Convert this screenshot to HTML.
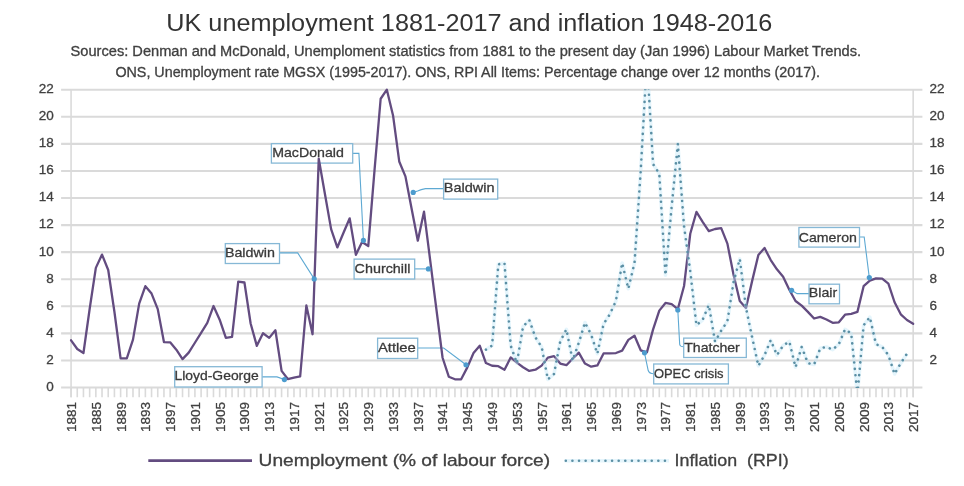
<!DOCTYPE html><html><head><meta charset="utf-8"><title>UK unemployment and inflation</title><style>html,body{margin:0;padding:0;background:#fff;width:964px;height:486px;overflow:hidden}svg{display:block;will-change:transform}text{font-family:"Liberation Sans",sans-serif;stroke-width:0.3px}</style></head><body>
<svg width="964" height="486" viewBox="0 0 964 486">
<defs><clipPath id="pa"><rect x="71.07" y="89.20" width="842.08" height="298.85"/></clipPath></defs>
<text x="166.3" y="30.6" font-size="23" fill="#333" stroke="none" textLength="606" lengthAdjust="spacingAndGlyphs">UK unemployment 1881-2017 and inflation 1948-2016</text>
<text x="70.6" y="56.3" font-size="13.8" fill="#404040" stroke="#404040" textLength="790.5" lengthAdjust="spacingAndGlyphs">Sources: Denman and McDonald, Unemploment statistics from 1881 to the present day (Jan 1996) Labour Market Trends.</text>
<text x="115.4" y="76.9" font-size="13.8" fill="#404040" stroke="#404040" textLength="704.5" lengthAdjust="spacingAndGlyphs">ONS, Unemployment rate MGSX (1995-2017). ONS, RPI All Items: Percentage change over 12 months (2017).</text>
<line x1="61.1" x2="922.4" y1="387.55" y2="387.55" stroke="#dadada" stroke-width="2.1"/>
<line x1="61.1" x2="922.4" y1="360.47" y2="360.47" stroke="#dadada" stroke-width="2.1"/>
<line x1="61.1" x2="922.4" y1="333.40" y2="333.40" stroke="#dadada" stroke-width="2.1"/>
<line x1="61.1" x2="922.4" y1="306.32" y2="306.32" stroke="#dadada" stroke-width="2.1"/>
<line x1="61.1" x2="922.4" y1="279.24" y2="279.24" stroke="#dadada" stroke-width="2.1"/>
<line x1="61.1" x2="922.4" y1="252.16" y2="252.16" stroke="#dadada" stroke-width="2.1"/>
<line x1="61.1" x2="922.4" y1="225.09" y2="225.09" stroke="#dadada" stroke-width="2.1"/>
<line x1="61.1" x2="922.4" y1="198.01" y2="198.01" stroke="#dadada" stroke-width="2.1"/>
<line x1="61.1" x2="922.4" y1="170.93" y2="170.93" stroke="#dadada" stroke-width="2.1"/>
<line x1="61.1" x2="922.4" y1="143.85" y2="143.85" stroke="#dadada" stroke-width="2.1"/>
<line x1="61.1" x2="922.4" y1="116.78" y2="116.78" stroke="#dadada" stroke-width="2.1"/>
<line x1="61.1" x2="922.4" y1="89.70" y2="89.70" stroke="#dadada" stroke-width="2.1"/>
<line x1="71.07" x2="71.07" y1="89.70" y2="397.2" stroke="#dadada" stroke-width="1.6"/>
<line x1="913.15" x2="913.15" y1="89.70" y2="397.2" stroke="#dadada" stroke-width="1.6"/>
<path d="M71.07 387.55V397.2M77.26 387.55V397.2M83.45 387.55V397.2M89.65 387.55V397.2M95.84 387.55V397.2M102.03 387.55V397.2M108.22 387.55V397.2M114.41 387.55V397.2M120.60 387.55V397.2M126.80 387.55V397.2M132.99 387.55V397.2M139.18 387.55V397.2M145.37 387.55V397.2M151.56 387.55V397.2M157.75 387.55V397.2M163.95 387.55V397.2M170.14 387.55V397.2M176.33 387.55V397.2M182.52 387.55V397.2M188.71 387.55V397.2M194.91 387.55V397.2M201.10 387.55V397.2M207.29 387.55V397.2M213.48 387.55V397.2M219.67 387.55V397.2M225.86 387.55V397.2M232.06 387.55V397.2M238.25 387.55V397.2M244.44 387.55V397.2M250.63 387.55V397.2M256.82 387.55V397.2M263.01 387.55V397.2M269.21 387.55V397.2M275.40 387.55V397.2M281.59 387.55V397.2M287.78 387.55V397.2M293.97 387.55V397.2M300.17 387.55V397.2M306.36 387.55V397.2M312.55 387.55V397.2M318.74 387.55V397.2M324.93 387.55V397.2M331.12 387.55V397.2M337.32 387.55V397.2M343.51 387.55V397.2M349.70 387.55V397.2M355.89 387.55V397.2M362.08 387.55V397.2M368.27 387.55V397.2M374.47 387.55V397.2M380.66 387.55V397.2M386.85 387.55V397.2M393.04 387.55V397.2M399.23 387.55V397.2M405.43 387.55V397.2M411.62 387.55V397.2M417.81 387.55V397.2M424.00 387.55V397.2M430.19 387.55V397.2M436.38 387.55V397.2M442.58 387.55V397.2M448.77 387.55V397.2M454.96 387.55V397.2M461.15 387.55V397.2M467.34 387.55V397.2M473.53 387.55V397.2M479.73 387.55V397.2M485.92 387.55V397.2M492.11 387.55V397.2M498.30 387.55V397.2M504.49 387.55V397.2M510.69 387.55V397.2M516.88 387.55V397.2M523.07 387.55V397.2M529.26 387.55V397.2M535.45 387.55V397.2M541.64 387.55V397.2M547.84 387.55V397.2M554.03 387.55V397.2M560.22 387.55V397.2M566.41 387.55V397.2M572.60 387.55V397.2M578.79 387.55V397.2M584.99 387.55V397.2M591.18 387.55V397.2M597.37 387.55V397.2M603.56 387.55V397.2M609.75 387.55V397.2M615.95 387.55V397.2M622.14 387.55V397.2M628.33 387.55V397.2M634.52 387.55V397.2M640.71 387.55V397.2M646.90 387.55V397.2M653.10 387.55V397.2M659.29 387.55V397.2M665.48 387.55V397.2M671.67 387.55V397.2M677.86 387.55V397.2M684.05 387.55V397.2M690.25 387.55V397.2M696.44 387.55V397.2M702.63 387.55V397.2M708.82 387.55V397.2M715.01 387.55V397.2M721.21 387.55V397.2M727.40 387.55V397.2M733.59 387.55V397.2M739.78 387.55V397.2M745.97 387.55V397.2M752.16 387.55V397.2M758.36 387.55V397.2M764.55 387.55V397.2M770.74 387.55V397.2M776.93 387.55V397.2M783.12 387.55V397.2M789.31 387.55V397.2M795.51 387.55V397.2M801.70 387.55V397.2M807.89 387.55V397.2M814.08 387.55V397.2M820.27 387.55V397.2M826.47 387.55V397.2M832.66 387.55V397.2M838.85 387.55V397.2M845.04 387.55V397.2M851.23 387.55V397.2M857.42 387.55V397.2M863.62 387.55V397.2M869.81 387.55V397.2M876.00 387.55V397.2M882.19 387.55V397.2M888.38 387.55V397.2M894.57 387.55V397.2M900.77 387.55V397.2M906.96 387.55V397.2M913.15 387.55V397.2" stroke="#dadada" stroke-width="1.6"/>
<text x="53.8" y="390.95" font-size="13.5" fill="#404040" stroke="#404040" text-anchor="end">0</text>
<text x="53.8" y="363.87" font-size="13.5" fill="#404040" stroke="#404040" text-anchor="end">2</text>
<text x="929.6" y="363.87" font-size="13.5" fill="#404040" stroke="#404040">2</text>
<text x="53.8" y="336.80" font-size="13.5" fill="#404040" stroke="#404040" text-anchor="end">4</text>
<text x="929.6" y="336.80" font-size="13.5" fill="#404040" stroke="#404040">4</text>
<text x="53.8" y="309.72" font-size="13.5" fill="#404040" stroke="#404040" text-anchor="end">6</text>
<text x="929.6" y="309.72" font-size="13.5" fill="#404040" stroke="#404040">6</text>
<text x="53.8" y="282.64" font-size="13.5" fill="#404040" stroke="#404040" text-anchor="end">8</text>
<text x="929.6" y="282.64" font-size="13.5" fill="#404040" stroke="#404040">8</text>
<text x="53.8" y="255.56" font-size="13.5" fill="#404040" stroke="#404040" text-anchor="end">10</text>
<text x="929.6" y="255.56" font-size="13.5" fill="#404040" stroke="#404040">10</text>
<text x="53.8" y="228.49" font-size="13.5" fill="#404040" stroke="#404040" text-anchor="end">12</text>
<text x="929.6" y="228.49" font-size="13.5" fill="#404040" stroke="#404040">12</text>
<text x="53.8" y="201.41" font-size="13.5" fill="#404040" stroke="#404040" text-anchor="end">14</text>
<text x="929.6" y="201.41" font-size="13.5" fill="#404040" stroke="#404040">14</text>
<text x="53.8" y="174.33" font-size="13.5" fill="#404040" stroke="#404040" text-anchor="end">16</text>
<text x="929.6" y="174.33" font-size="13.5" fill="#404040" stroke="#404040">16</text>
<text x="53.8" y="147.25" font-size="13.5" fill="#404040" stroke="#404040" text-anchor="end">18</text>
<text x="929.6" y="147.25" font-size="13.5" fill="#404040" stroke="#404040">18</text>
<text x="53.8" y="120.18" font-size="13.5" fill="#404040" stroke="#404040" text-anchor="end">20</text>
<text x="929.6" y="120.18" font-size="13.5" fill="#404040" stroke="#404040">20</text>
<text x="53.8" y="93.10" font-size="13.5" fill="#404040" stroke="#404040" text-anchor="end">22</text>
<text x="929.6" y="93.10" font-size="13.5" fill="#404040" stroke="#404040">22</text>
<text transform="translate(75.97,402) rotate(-90)" x="0" y="0" font-size="13.5" fill="#404040" stroke="#404040" text-anchor="end">1881</text>
<text transform="translate(100.74,402) rotate(-90)" x="0" y="0" font-size="13.5" fill="#404040" stroke="#404040" text-anchor="end">1885</text>
<text transform="translate(125.50,402) rotate(-90)" x="0" y="0" font-size="13.5" fill="#404040" stroke="#404040" text-anchor="end">1889</text>
<text transform="translate(150.27,402) rotate(-90)" x="0" y="0" font-size="13.5" fill="#404040" stroke="#404040" text-anchor="end">1893</text>
<text transform="translate(175.04,402) rotate(-90)" x="0" y="0" font-size="13.5" fill="#404040" stroke="#404040" text-anchor="end">1897</text>
<text transform="translate(199.81,402) rotate(-90)" x="0" y="0" font-size="13.5" fill="#404040" stroke="#404040" text-anchor="end">1901</text>
<text transform="translate(224.57,402) rotate(-90)" x="0" y="0" font-size="13.5" fill="#404040" stroke="#404040" text-anchor="end">1905</text>
<text transform="translate(249.34,402) rotate(-90)" x="0" y="0" font-size="13.5" fill="#404040" stroke="#404040" text-anchor="end">1909</text>
<text transform="translate(274.11,402) rotate(-90)" x="0" y="0" font-size="13.5" fill="#404040" stroke="#404040" text-anchor="end">1913</text>
<text transform="translate(298.87,402) rotate(-90)" x="0" y="0" font-size="13.5" fill="#404040" stroke="#404040" text-anchor="end">1917</text>
<text transform="translate(323.64,402) rotate(-90)" x="0" y="0" font-size="13.5" fill="#404040" stroke="#404040" text-anchor="end">1921</text>
<text transform="translate(348.41,402) rotate(-90)" x="0" y="0" font-size="13.5" fill="#404040" stroke="#404040" text-anchor="end">1925</text>
<text transform="translate(373.17,402) rotate(-90)" x="0" y="0" font-size="13.5" fill="#404040" stroke="#404040" text-anchor="end">1929</text>
<text transform="translate(397.94,402) rotate(-90)" x="0" y="0" font-size="13.5" fill="#404040" stroke="#404040" text-anchor="end">1933</text>
<text transform="translate(422.71,402) rotate(-90)" x="0" y="0" font-size="13.5" fill="#404040" stroke="#404040" text-anchor="end">1937</text>
<text transform="translate(447.48,402) rotate(-90)" x="0" y="0" font-size="13.5" fill="#404040" stroke="#404040" text-anchor="end">1941</text>
<text transform="translate(472.24,402) rotate(-90)" x="0" y="0" font-size="13.5" fill="#404040" stroke="#404040" text-anchor="end">1945</text>
<text transform="translate(497.01,402) rotate(-90)" x="0" y="0" font-size="13.5" fill="#404040" stroke="#404040" text-anchor="end">1949</text>
<text transform="translate(521.78,402) rotate(-90)" x="0" y="0" font-size="13.5" fill="#404040" stroke="#404040" text-anchor="end">1953</text>
<text transform="translate(546.54,402) rotate(-90)" x="0" y="0" font-size="13.5" fill="#404040" stroke="#404040" text-anchor="end">1957</text>
<text transform="translate(571.31,402) rotate(-90)" x="0" y="0" font-size="13.5" fill="#404040" stroke="#404040" text-anchor="end">1961</text>
<text transform="translate(596.08,402) rotate(-90)" x="0" y="0" font-size="13.5" fill="#404040" stroke="#404040" text-anchor="end">1965</text>
<text transform="translate(620.85,402) rotate(-90)" x="0" y="0" font-size="13.5" fill="#404040" stroke="#404040" text-anchor="end">1969</text>
<text transform="translate(645.61,402) rotate(-90)" x="0" y="0" font-size="13.5" fill="#404040" stroke="#404040" text-anchor="end">1973</text>
<text transform="translate(670.38,402) rotate(-90)" x="0" y="0" font-size="13.5" fill="#404040" stroke="#404040" text-anchor="end">1977</text>
<text transform="translate(695.15,402) rotate(-90)" x="0" y="0" font-size="13.5" fill="#404040" stroke="#404040" text-anchor="end">1981</text>
<text transform="translate(719.91,402) rotate(-90)" x="0" y="0" font-size="13.5" fill="#404040" stroke="#404040" text-anchor="end">1985</text>
<text transform="translate(744.68,402) rotate(-90)" x="0" y="0" font-size="13.5" fill="#404040" stroke="#404040" text-anchor="end">1989</text>
<text transform="translate(769.45,402) rotate(-90)" x="0" y="0" font-size="13.5" fill="#404040" stroke="#404040" text-anchor="end">1993</text>
<text transform="translate(794.21,402) rotate(-90)" x="0" y="0" font-size="13.5" fill="#404040" stroke="#404040" text-anchor="end">1997</text>
<text transform="translate(818.98,402) rotate(-90)" x="0" y="0" font-size="13.5" fill="#404040" stroke="#404040" text-anchor="end">2001</text>
<text transform="translate(843.75,402) rotate(-90)" x="0" y="0" font-size="13.5" fill="#404040" stroke="#404040" text-anchor="end">2005</text>
<text transform="translate(868.52,402) rotate(-90)" x="0" y="0" font-size="13.5" fill="#404040" stroke="#404040" text-anchor="end">2009</text>
<text transform="translate(893.28,402) rotate(-90)" x="0" y="0" font-size="13.5" fill="#404040" stroke="#404040" text-anchor="end">2013</text>
<text transform="translate(918.05,402) rotate(-90)" x="0" y="0" font-size="13.5" fill="#404040" stroke="#404040" text-anchor="end">2017</text>
<path d="M352.7 153.4H358.9L363.4 240.4" fill="none" stroke="#5ea9d3" stroke-width="1.1"/>
<rect x="271.4" y="143.7" width="81.3" height="19.4" fill="#fff" stroke="#86b8d6" stroke-width="1.3"/>
<text x="272.2" y="156.7" font-size="13.2" fill="#3a3a3a" stroke="#3a3a3a" textLength="71.7" lengthAdjust="spacingAndGlyphs">MacDonald</text>
<path d="M279.5 252.9H297.7L314.2 278.9" fill="none" stroke="#5ea9d3" stroke-width="1.1"/>
<rect x="225.3" y="243.6" width="54.2" height="19.9" fill="#fff" stroke="#86b8d6" stroke-width="1.3"/>
<text x="224.9" y="256.7" font-size="13.2" fill="#3a3a3a" stroke="#3a3a3a" textLength="50.0" lengthAdjust="spacingAndGlyphs">Baldwin</text>
<path d="M414.7 268.9H428.4" fill="none" stroke="#5ea9d3" stroke-width="1.1"/>
<rect x="354.1" y="259.1" width="60.6" height="19.9" fill="#fff" stroke="#86b8d6" stroke-width="1.3"/>
<text x="354.6" y="272.6" font-size="13.2" fill="#3a3a3a" stroke="#3a3a3a" textLength="55.8" lengthAdjust="spacingAndGlyphs">Churchill</text>
<path d="M443.6 188.6H425.5Q421 189.2 417.6 191.1L413.2 192.4" fill="none" stroke="#5ea9d3" stroke-width="1.1"/>
<rect x="443.6" y="179.1" width="54.1" height="20.0" fill="#fff" stroke="#86b8d6" stroke-width="1.3"/>
<text x="443.8" y="192.3" font-size="13.2" fill="#3a3a3a" stroke="#3a3a3a" textLength="50.8" lengthAdjust="spacingAndGlyphs">Baldwin</text>
<path d="M262.1 376.9H277L284.4 379.6" fill="none" stroke="#5ea9d3" stroke-width="1.1"/>
<rect x="174.7" y="366.7" width="87.4" height="20.3" fill="#fff" stroke="#86b8d6" stroke-width="1.3"/>
<text x="174.5" y="380.2" font-size="13.2" fill="#3a3a3a" stroke="#3a3a3a" textLength="84.2" lengthAdjust="spacingAndGlyphs">Lloyd-George</text>
<path d="M417.7 348H443.7L466 364.8" fill="none" stroke="#5ea9d3" stroke-width="1.1"/>
<rect x="377.6" y="338.2" width="40.1" height="20.3" fill="#fff" stroke="#86b8d6" stroke-width="1.3"/>
<text x="377.9" y="351.7" font-size="13.2" fill="#3a3a3a" stroke="#3a3a3a" textLength="37.9" lengthAdjust="spacingAndGlyphs">Attlee</text>
<path d="M644.5 352.8L648.2 370.5Q649.2 373.7 653.7 373.7" fill="none" stroke="#5ea9d3" stroke-width="1.1"/>
<rect x="653.7" y="364.0" width="74.7" height="19.9" fill="#fff" stroke="#86b8d6" stroke-width="1.3"/>
<text x="653.9" y="377.7" font-size="13.2" fill="#3a3a3a" stroke="#3a3a3a" textLength="69.7" lengthAdjust="spacingAndGlyphs">OPEC crisis</text>
<path d="M677.8 310L679.7 344.5Q680.2 346.8 683.7 346.8" fill="none" stroke="#5ea9d3" stroke-width="1.1"/>
<rect x="683.7" y="338.1" width="62.6" height="19.4" fill="#fff" stroke="#86b8d6" stroke-width="1.3"/>
<text x="684.2" y="351.5" font-size="13.2" fill="#3a3a3a" stroke="#3a3a3a" textLength="55.6" lengthAdjust="spacingAndGlyphs">Thatcher</text>
<path d="M791.6 290.3L797.1 293.6H809" fill="none" stroke="#5ea9d3" stroke-width="1.1"/>
<rect x="809.0" y="284.2" width="30.5" height="19.6" fill="#fff" stroke="#86b8d6" stroke-width="1.3"/>
<text x="808.8" y="297.2" font-size="13.2" fill="#3a3a3a" stroke="#3a3a3a" textLength="28.4" lengthAdjust="spacingAndGlyphs">Blair</text>
<path d="M859.5 237H864.2L869.3 277.6" fill="none" stroke="#5ea9d3" stroke-width="1.1"/>
<rect x="798.9" y="227.5" width="60.6" height="19.6" fill="#fff" stroke="#86b8d6" stroke-width="1.3"/>
<text x="798.8" y="241.6" font-size="13.2" fill="#3a3a3a" stroke="#3a3a3a" textLength="58.1" lengthAdjust="spacingAndGlyphs">Cameron</text>
<polyline points="71.07,340.30 77.26,348.96 83.45,353.03 89.65,309.03 95.84,267.87 102.03,254.60 108.22,270.03 114.41,311.73 120.60,358.44 126.80,358.44 132.99,339.62 139.18,303.61 145.37,286.15 151.56,293.59 157.75,309.16 163.95,342.06 170.14,342.33 176.33,349.64 182.52,359.12 188.71,352.62 194.91,342.74 201.10,332.85 207.29,322.84 213.48,306.05 219.67,319.72 225.86,337.86 232.06,336.92 238.25,281.54 244.44,282.49 250.63,323.51 256.82,345.85 263.01,333.26 269.21,337.86 275.40,330.28 281.59,370.90 287.78,379.02 293.97,377.53 300.17,376.31 306.36,305.51 312.55,334.21 318.74,158.75 324.93,193.95 331.12,229.15 337.32,247.43 343.51,232.80 349.70,218.32 355.89,254.87 362.08,242.01 368.27,246.07 374.47,170.93 380.66,98.77 386.85,89.70 393.04,115.42 399.23,161.45 405.43,176.35 411.62,208.84 417.81,240.66 424.00,211.68 430.19,260.29 436.38,309.03 442.58,357.76 448.77,376.72 454.96,379.29 461.15,379.29 467.34,367.38 473.53,353.03 479.73,345.72 485.92,363.05 492.11,365.75 498.30,366.16 504.49,369.68 510.69,357.49 516.88,362.64 523.07,367.24 529.26,370.90 535.45,369.68 541.64,365.62 547.84,357.63 554.03,356.14 560.22,363.59 566.41,365.21 572.60,358.71 578.79,352.62 584.99,363.59 591.18,366.70 597.37,365.48 603.56,353.43 609.75,353.43 615.95,353.03 622.14,350.59 628.33,339.89 634.52,335.70 640.71,350.32 646.90,352.35 653.10,329.33 659.29,310.65 665.48,302.93 671.67,304.15 677.86,309.03 684.05,286.01 690.25,233.75 696.44,211.95 702.63,221.84 708.82,231.18 715.01,229.01 721.21,228.06 727.40,243.63 733.59,275.04 739.78,301.04 745.97,307.94 752.16,280.87 758.36,255.01 764.55,247.97 770.74,260.02 776.93,269.36 783.12,276.80 789.31,289.80 795.51,301.04 801.70,305.64 807.89,311.87 814.08,318.50 820.27,316.88 826.47,319.45 832.66,322.84 838.85,322.29 845.04,314.71 851.23,313.90 857.42,311.87 863.62,286.15 869.81,280.59 876.00,278.43 882.19,278.70 888.38,283.71 894.57,302.26 900.77,314.31 906.96,319.99 913.15,323.78" fill="none" stroke="#634c80" stroke-width="2.3" stroke-linejoin="round" stroke-linecap="round"/>
<g clip-path="url(#pa)"><polyline points="485.92,349.64 492.11,345.58 498.30,264.35 504.49,262.99 510.69,345.58 516.88,363.18 523.07,326.63 529.26,319.86 535.45,337.46 541.64,346.93 547.84,379.43 554.03,374.01 560.22,341.52 566.41,329.33 572.60,360.47 578.79,342.87 584.99,322.56 591.18,334.75 597.37,353.70 603.56,323.92 609.75,314.44 615.95,300.90 622.14,262.99 628.33,288.72 634.52,262.99 640.71,170.93 646.90,59.92 653.10,164.16 659.29,173.64 665.48,275.18 671.67,206.13 677.86,143.85 684.05,226.44 690.25,271.12 696.44,325.27 702.63,319.86 708.82,304.96 715.01,341.52 721.21,330.69 727.40,321.21 733.59,281.95 739.78,258.93 745.97,307.67 752.16,337.46 758.36,365.89 764.55,355.06 770.74,340.16 776.93,355.06 783.12,345.58 789.31,341.52 795.51,367.24 801.70,346.93 807.89,363.18 814.08,364.53 820.27,348.29 826.47,346.93 832.66,349.64 838.85,344.23 845.04,329.33 851.23,333.40 857.42,394.32 863.62,325.27 869.81,317.15 876.00,344.23 882.19,346.93 888.38,355.06 894.57,374.01 900.77,363.18 906.96,353.70" fill="none" stroke="#bfe6f7" stroke-opacity="0.4" stroke-width="3.6" stroke-linejoin="round"/><polyline points="485.92,349.64 492.11,345.58 498.30,264.35 504.49,262.99 510.69,345.58 516.88,363.18 523.07,326.63 529.26,319.86 535.45,337.46 541.64,346.93 547.84,379.43 554.03,374.01 560.22,341.52 566.41,329.33 572.60,360.47 578.79,342.87 584.99,322.56 591.18,334.75 597.37,353.70 603.56,323.92 609.75,314.44 615.95,300.90 622.14,262.99 628.33,288.72 634.52,262.99 640.71,170.93 646.90,59.92 653.10,164.16 659.29,173.64 665.48,275.18 671.67,206.13 677.86,143.85 684.05,226.44 690.25,271.12 696.44,325.27 702.63,319.86 708.82,304.96 715.01,341.52 721.21,330.69 727.40,321.21 733.59,281.95 739.78,258.93 745.97,307.67 752.16,337.46 758.36,365.89 764.55,355.06 770.74,340.16 776.93,355.06 783.12,345.58 789.31,341.52 795.51,367.24 801.70,346.93 807.89,363.18 814.08,364.53 820.27,348.29 826.47,346.93 832.66,349.64 838.85,344.23 845.04,329.33 851.23,333.40 857.42,394.32 863.62,325.27 869.81,317.15 876.00,344.23 882.19,346.93 888.38,355.06 894.57,374.01 900.77,363.18 906.96,353.70" fill="none" stroke="#5b8fa4" stroke-width="2.6" stroke-dasharray="0.01 6.4" stroke-linecap="round" stroke-linejoin="round"/></g>
<circle cx="363.4" cy="240.4" r="2.6" fill="#4d9cce"/>
<circle cx="314.2" cy="278.9" r="2.6" fill="#4d9cce"/>
<circle cx="428.4" cy="268.9" r="2.6" fill="#4d9cce"/>
<circle cx="413.2" cy="192.4" r="2.6" fill="#4d9cce"/>
<circle cx="284.4" cy="379.6" r="2.6" fill="#4d9cce"/>
<circle cx="466.0" cy="364.8" r="2.6" fill="#4d9cce"/>
<circle cx="644.5" cy="352.8" r="2.6" fill="#4d9cce"/>
<circle cx="677.8" cy="310.0" r="2.6" fill="#4d9cce"/>
<circle cx="791.6" cy="290.3" r="2.6" fill="#4d9cce"/>
<circle cx="869.3" cy="277.6" r="2.6" fill="#4d9cce"/>
<line x1="148.3" x2="252" y1="460.6" y2="460.6" stroke="#634c80" stroke-width="2.6"/>
<text x="258.6" y="466.4" font-size="16.2" fill="#404040" stroke="#404040" textLength="291.5" lengthAdjust="spacingAndGlyphs">Unemployment (% of labour force)</text>
<line x1="564.5" x2="669" y1="460.7" y2="460.7" stroke="#bfe6f7" stroke-opacity="0.4" stroke-width="3.6"/><line x1="565.8" x2="668" y1="460.7" y2="460.7" stroke="#5b8fa4" stroke-width="2.6" stroke-dasharray="0.01 6.6" stroke-linecap="round"/>
<text x="674.6" y="466.4" font-size="16.2" fill="#404040" stroke="#404040" textLength="114" lengthAdjust="spacingAndGlyphs" xml:space="preserve">Inflation  (RPI)</text>
</svg></body></html>
